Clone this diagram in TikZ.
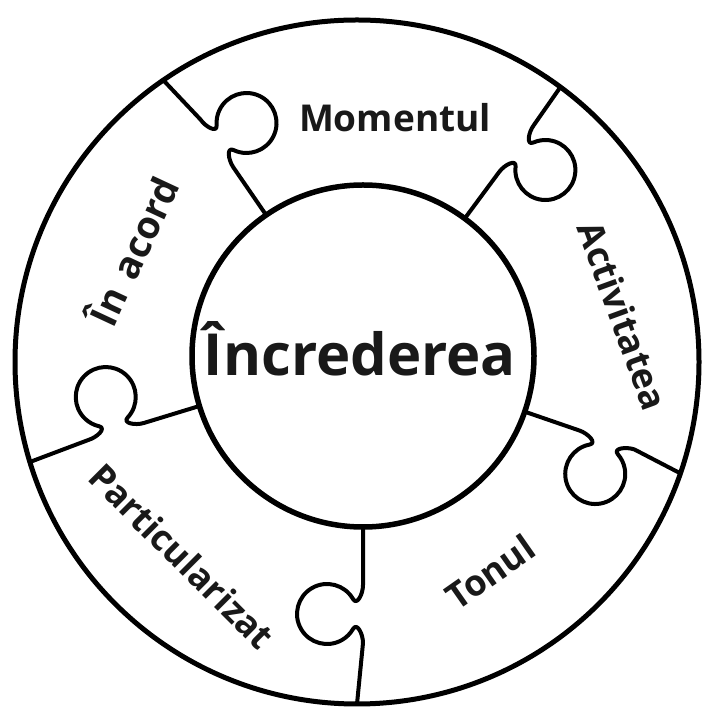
\documentclass[tikz,border=0pt]{standalone}
\usepackage{fontspec}
\setmainfont{Open Sans}
\usetikzlibrary{calc}
\begin{document}
\begin{tikzpicture}[x=1pt,y=1pt,line join=round,
  ring/.style={line width=5pt},
  innerring/.style={line width=5.5pt},
  divider/.style={line width=4pt},
  lbl/.style={font=\bfseries\fontsize{36}{40}\selectfont, text=black!90, inner sep=0pt},
  biglbl/.style={font=\bfseries\fontsize{58}{62}\selectfont, text=black!90, inner sep=0pt}]
\useasboundingbox (0,0) rectangle (702,709);
\fill[white] (0,0) rectangle (702,709);
\coordinate (O) at (357,347);
\coordinate (Ic) at (363,353);
\def\Rout{342}
\def\Rin{171}
% dividers with puzzle knobs
\foreach \a [count=\k] in {124.5,53.5,-19,-90,197} {
  \coordinate (e\k) at ($(O)+(\a:\Rout)$);
  \begin{scope}[shift={($(Ic)+(\a:\Rin)$)}, rotate=\a]
    \draw[divider] (0,0) -- (58,0) .. controls (67,0) and (79,-6) .. (72,-10)
      arc[start angle=120,end angle=420,radius=30]
      .. controls (95,-6) and (107,0) .. (116,0) -- (e\k);
  \end{scope}
}
\draw[ring] (O) circle[radius=\Rout];
\draw[innerring,fill=white] (Ic) circle[radius=\Rin];
% labels
\node[biglbl, anchor=base] (center) at (360,333) {Încrederea};
\node[lbl, font=\bfseries\fontsize{37}{40}\selectfont] (momentul) at (395,591) {Momentul};
\node[lbl, rotate=-70] (activ) at (623,393) {Activitatea};
\node[lbl, rotate=65, font=\bfseries\fontsize{38}{40}\selectfont] (acord) at (131,459) {În\hspace{0.12em} acord};
\node[lbl, rotate=-45] (partic) at (182,153) {Particularizat};
\node[lbl, rotate=35] (tonul) at (490,137) {Tonul};
\end{tikzpicture}
\end{document}
